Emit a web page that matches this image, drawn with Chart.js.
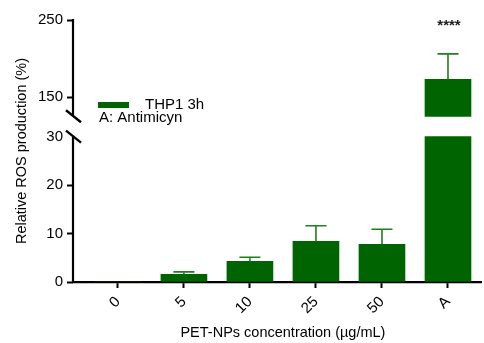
<!DOCTYPE html>
<html>
<head>
<meta charset="utf-8">
<title>Relative ROS production</title>
<script src="https://cdn.jsdelivr.net/npm/chart.js@4.4.1/dist/chart.umd.min.js"></script>
<style>
  html, body { margin: 0; padding: 0; background: #fff; }
  #chart { display: block; }
</style>
</head>
<body>
<canvas id="chart" width="484" height="343"></canvas>
<script>
// values
const categories = ['0', '5', '10', '25', '50', 'A'];
const means = [0, 1.6, 4.25, 8.4, 7.8, 173];
const errors = [0, 0.5, 0.85, 3.2, 3.1, 33];
const yTicks = [0, 10, 20, 30, 150, 250];
const stars = ['', '', '', '', '', '****'];

// broken y axis: 0-30 at the bottom, 125-250 squeezed on top
const lowerMax = 30, upperMin = 125, upperMax = 250;
const breakGap = 4.2;
const upperScale = 0.159;
function toAxis(v) {
    if (v <= lowerMax) return v;
    return lowerMax + breakGap + (Math.max(v, upperMin) - upperMin) * upperScale;
}

const green = '#006400';
const errColor = '#1f7f1f';
const fontFamily = 'Arial, "Liberation Sans", Helvetica, sans-serif';
const xTitle = 'PET-NPs concentration (µg/mL)';

// error bars (upper cap only)
const errorBars = {
    id: 'errorBars',
    afterDatasetsDraw(chart) {
        const {ctx, scales: {x, y}} = chart;
        ctx.save();
        ctx.strokeStyle = errColor;
        ctx.lineWidth = 1.6;
        means.forEach((m, i) => {
            if (!errors[i]) return;
            const px = x.getPixelForValue(i);
            const y1 = y.getPixelForValue(toAxis(m));
            const y2 = y.getPixelForValue(toAxis(m + errors[i]));
            ctx.beginPath();
            ctx.moveTo(px, y1);
            ctx.lineTo(px, y2);
            ctx.moveTo(px - 10.5, y2);
            ctx.lineTo(px + 10.5, y2);
            ctx.stroke();
        });
        // significance marks
        ctx.fillStyle = '#222';
        ctx.font = 'bold 15px ' + fontFamily;
        ctx.textAlign = 'center';
        ctx.textBaseline = 'alphabetic';
        stars.forEach((s, i) => {
            if (!s) return;
            ctx.fillText(s, x.getPixelForValue(i) + 1, y.getPixelForValue(toAxis(upperMax)) + 10);
        });
        ctx.restore();
    }
};

// y axis line with the break marks, x title centred under the groups
const brokenAxis = {
    id: 'brokenAxis',
    afterDraw(chart) {
        const {ctx, chartArea, scales: {x, y}} = chart;
        const ax = chartArea.left;
        const yLowTop = y.getPixelForValue(toAxis(lowerMax));
        const yUpBottom = y.getPixelForValue(toAxis(upperMin));
        ctx.save();
        ctx.strokeStyle = '#000';
        ctx.lineWidth = 2.2;
        ctx.beginPath();
        ctx.moveTo(ax, chartArea.bottom + 1);
        ctx.lineTo(ax, yLowTop);
        ctx.moveTo(ax, yUpBottom);
        ctx.lineTo(ax, chartArea.top - 1);
        ctx.stroke();
        ctx.lineWidth = 2.4;
        [yUpBottom, yLowTop].forEach(yy => {
            ctx.beginPath();
            ctx.moveTo(ax - 7, yy - 6);
            ctx.lineTo(ax + 8, yy + 6);
            ctx.stroke();
        });
        const cx = (x.getPixelForValue(-0.5) + x.getPixelForValue(categories.length - 0.5)) / 2;
        ctx.fillStyle = '#000';
        ctx.font = '14.5px ' + fontFamily;
        ctx.textAlign = 'center';
        ctx.textBaseline = 'middle';
        ctx.fillText(xTitle, cx, x.bottom - 10);
        ctx.restore();
    }
};

// legend inside the plot
const legendText = {
    id: 'legendText',
    afterDraw(chart) {
        const {ctx, chartArea} = chart;
        const lx = chartArea.left + 25;
        const ly = chartArea.top + 85;
        ctx.save();
        ctx.fillStyle = green;
        ctx.fillRect(lx, ly - 3, 31, 6);
        ctx.fillStyle = '#000';
        ctx.font = '15px ' + fontFamily;
        ctx.textAlign = 'left';
        ctx.textBaseline = 'middle';
        ctx.fillText(chart.data.datasets[0].label, lx + 47, ly);
        ctx.fillText('A: Antimicyn', lx + 1, ly + 12.5);
        ctx.restore();
    }
};

new Chart(document.getElementById('chart'), {
    type: 'bar',
    data: {
        datasets: [{
            label: 'THP1 3h',
            data: means.map((v, i) => ({x: i, y: Math.min(v, lowerMax)})),
            backgroundColor: green,
            barThickness: 46,
            grouped: false
        }, {
            label: 'upper',
            data: means.map((v, i) => ({x: i, y: v}))
                .filter(d => d.y > upperMin)
                .map(d => ({x: d.x, y: [toAxis(upperMin), toAxis(d.y)]})),
            backgroundColor: green,
            barThickness: 46,
            grouped: false
        }]
    },
    options: {
        responsive: false,
        animation: false,
        devicePixelRatio: 1,
        layout: { padding: { top: 20, right: 3, left: 0, bottom: 0 } },
        plugins: { legend: { display: false }, tooltip: { enabled: false } },
        scales: {
            x: {
                type: 'linear',
                offset: false,
                min: -0.68,
                max: 5.5,
                afterBuildTicks: axis => { axis.ticks = categories.map((c, i) => ({value: i})); },
                afterFit: axis => { axis.height = 61; axis.paddingLeft = 0; axis.paddingRight = 0; },
                ticks: {
                    autoSkip: false,
                    maxRotation: 45,
                    minRotation: 45,
                    padding: 5,
                    color: '#000',
                    font: { family: fontFamily, size: 15 },
                    callback: (val, i) => categories[i]
                },
                grid: { offset: false, drawOnChartArea: false, drawTicks: true, tickLength: 6, tickWidth: 2, tickColor: '#000' },
                border: { display: true, color: '#000', width: 2.2 },
                title: { display: false }
            },
            y: {
                min: 0,
                max: toAxis(upperMax),
                afterBuildTicks: axis => { axis.ticks = yTicks.map(v => ({value: toAxis(v)})); },
                afterFit: axis => { axis.width = 73; axis.paddingTop = 0; axis.paddingBottom = 0; },
                ticks: {
                    autoSkip: false,
                    padding: 4,
                    color: '#000',
                    font: { family: fontFamily, size: 15 },
                    callback: (val, i) => yTicks[i]
                },
                grid: {
                    drawOnChartArea: false,
                    drawTicks: true,
                    tickLength: 6,
                    tickWidth: 2,
                    tickColor: c => (yTicks[c.index] === lowerMax ? 'rgba(0,0,0,0)' : '#000')
                },
                border: { display: false },
                title: {
                    display: true,
                    text: 'Relative ROS production (%)',
                    color: '#000',
                    font: { family: fontFamily, size: 14.5 },
                    padding: { top: 13, bottom: 0 }
                }
            }
        }
    },
    plugins: [errorBars, brokenAxis, legendText]
});
</script>
</body>
</html>
